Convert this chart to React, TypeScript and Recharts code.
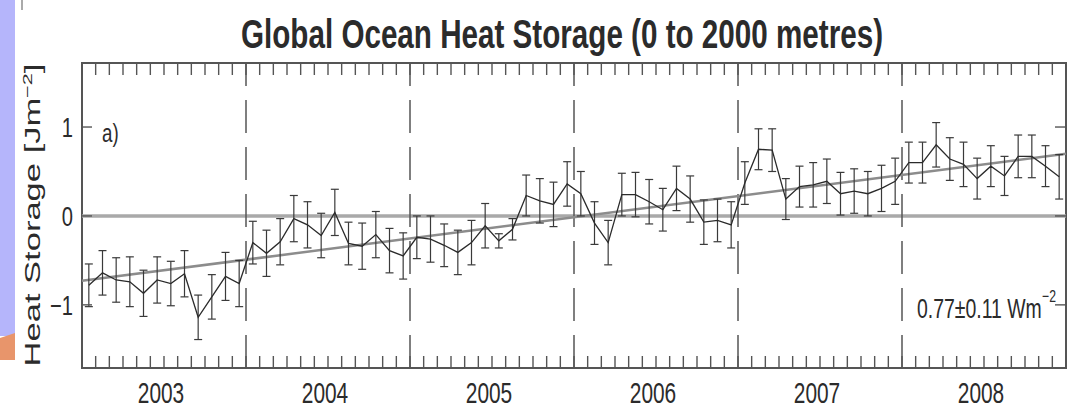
import React from 'react';
import {
  ComposedChart,
  Line,
  ErrorBar,
  XAxis,
  YAxis,
  ReferenceLine,
  ReferenceArea,
} from 'recharts';

// monthly heat storage anomalies (J m^-2 scaled), one array per year
const years = ['2003', '2004', '2005', '2006', '2007', '2008'];
const heat2003 = [-0.78, -0.64, -0.72, -0.74, -0.87, -0.72, -0.76, -0.65, -1.14, -0.91, -0.68, -0.76];
const heat2004 = [-0.3, -0.42, -0.29, -0.03, -0.1, -0.22, 0.04, -0.31, -0.34, -0.21, -0.39, -0.45];
const heat2005 = [-0.24, -0.26, -0.33, -0.41, -0.3, -0.11, -0.28, -0.15, 0.23, 0.17, 0.13, 0.36];
const heat2006 = [0.25, -0.08, -0.3, 0.24, 0.24, 0.16, 0.07, 0.31, 0.19, -0.07, -0.05, -0.1];
const heat2007 = [0.37, 0.75, 0.74, 0.19, 0.33, 0.35, 0.39, 0.25, 0.28, 0.25, 0.31, 0.39];
const heat2008 = [0.6, 0.6, 0.8, 0.64, 0.58, 0.42, 0.56, 0.45, 0.67, 0.67, 0.56, 0.44];

// one-sigma errors
const err2003 = [0.24, 0.25, 0.25, 0.28, 0.26, 0.26, 0.25, 0.26, 0.25, 0.25, 0.27, 0.26];
const err2004 = [0.24, 0.26, 0.26, 0.26, 0.26, 0.25, 0.26, 0.24, 0.26, 0.26, 0.25, 0.26];
const err2005 = [0.24, 0.26, 0.24, 0.25, 0.25, 0.25, 0.08, 0.12, 0.23, 0.25, 0.25, 0.25];
const err2006 = [0.25, 0.24, 0.25, 0.24, 0.25, 0.25, 0.24, 0.25, 0.26, 0.25, 0.24, 0.26];
const err2007 = [0.24, 0.23, 0.24, 0.23, 0.23, 0.25, 0.25, 0.24, 0.25, 0.25, 0.26, 0.26];
const err2008 = [0.23, 0.23, 0.25, 0.24, 0.25, 0.23, 0.23, 0.22, 0.24, 0.24, 0.23, 0.25];

// linear fit, month 0 .. month 72
const trendMonths = [0, 72];
const trendValues = [-0.73, 0.7];

const yTicks = [-1, 0, 1];
const yearEdges = [12, 24, 36, 48, 60];

const heatByYear = [heat2003, heat2004, heat2005, heat2006, heat2007, heat2008];
const errByYear = [err2003, err2004, err2005, err2006, err2007, err2008];

const data = heatByYear.flatMap((vals, yi) =>
  vals.map((v, mi) => ({ m: yi * 12 + mi + 0.5, heat: v, err: errByYear[yi][mi] }))
);
const monthTicks = Array.from({ length: 73 }, (_, i) => i);

const W = 1077;
const H = 409;
const LEFT = 82;
const RIGHT = 1066;
const TOP = 63;
const BOTTOM = 368;
const PLOT_W = RIGHT - LEFT;
const PLOT_H = BOTTOM - TOP;

const FONT = '"Liberation Sans", Arial, Helvetica, sans-serif';
const INK = '#2b2b2b';
const FRAME = '#555';

function MonthTick({ x, y, payload }: any) {
  const m = payload.value as number;
  const label = m % 12 === 6 ? years[(m - 6) / 12] : null;
  return (
    <g>
      <line x1={x} x2={x} y1={y} y2={y - 12} stroke={FRAME} strokeWidth={1.4} />
      <line x1={x} x2={x} y1={y - PLOT_H} y2={y - PLOT_H + 12} stroke={FRAME} strokeWidth={1.4} />
      {label && (
        <text
          transform={`translate(${x - 3},${y + 35}) scale(0.72,1)`}
          textAnchor="middle"
          fontFamily={FONT}
          fontSize={29}
          fill={INK}
        >
          {label}
        </text>
      )}
    </g>
  );
}

function HeatTick({ x, y, payload }: any) {
  const v = payload.value as number;
  return (
    <g>
      <line x1={x} x2={x + 10} y1={y} y2={y} stroke={FRAME} strokeWidth={1.4} />
      <line x1={x + PLOT_W - 11} x2={x + PLOT_W} y1={y} y2={y} stroke={FRAME} strokeWidth={1.4} />
      <text
        transform={`translate(${x - 9},${y + 10}) scale(0.72,1)`}
        textAnchor="end"
        fontFamily={FONT}
        fontSize={28}
        fill={INK}
      >
        {v < 0 ? `\u2212${-v}` : v}
      </text>
    </g>
  );
}

export default function App() {
  return (
    <div style={{ position: 'absolute', left: 0, top: 0, width: W, height: H, background: '#fff' }}>
      {/* slide strip on the left edge */}
      <div style={{ position: 'absolute', left: 0, top: 0, width: 15, height: 336, background: '#b5b5fb' }} />
      <div
        style={{
          position: 'absolute',
          left: 0,
          top: 333,
          width: 15,
          height: 27,
          background: '#e8956b',
          clipPath: 'polygon(0 5px, 100% 0, 100% 100%, 0 100%)',
        }}
      />
      <div style={{ position: 'absolute', left: 21, top: 0, width: 2, height: 10, background: '#aaa' }} />

      <ComposedChart
        width={W}
        height={H}
        data={data}
        margin={{ top: TOP, right: W - RIGHT, bottom: 0, left: 0 }}
        style={{ position: 'absolute', left: 0, top: 0 }}
      >
        <XAxis
          type="number"
          dataKey="m"
          domain={[0, 72]}
          ticks={monthTicks}
          interval={0}
          allowDataOverflow
          axisLine={false}
          tickLine={false}
          tickSize={0}
          tickMargin={0}
          height={H - BOTTOM}
          tick={<MonthTick />}
        />
        <YAxis
          type="number"
          domain={[-1.71, 1.72]}
          ticks={yTicks}
          allowDataOverflow
          axisLine={false}
          tickLine={false}
          tickSize={0}
          tickMargin={0}
          width={LEFT}
          tick={<HeatTick />}
        />
        <ReferenceLine y={0} stroke="#a9a9a9" strokeWidth={3.5} />
        {yearEdges.map((m) => (
          <ReferenceLine key={m} x={m} stroke={FRAME} strokeWidth={1.5} strokeDasharray="33 14" />
        ))}
        <ReferenceLine
          segment={[
            { x: trendMonths[0], y: trendValues[0] },
            { x: trendMonths[1], y: trendValues[1] },
          ]}
          stroke="#8c8c8c"
          strokeWidth={2.5}
        />
        <ReferenceArea x1={0} x2={72} y1={-1.71} y2={1.72} fill="none" stroke={FRAME} strokeWidth={2} />
        <Line
          type="linear"
          dataKey="heat"
          stroke={INK}
          strokeWidth={1.3}
          dot={false}
          isAnimationActive={false}
        >
          <ErrorBar dataKey="err" direction="y" width={4} stroke="#3a3a3a" strokeWidth={1.2} isAnimationActive={false} />
        </Line>
      </ComposedChart>

      <svg
        width={W}
        height={H}
        style={{ position: 'absolute', left: 0, top: 0, pointerEvents: 'none' }}
        fontFamily={FONT}
        fill={INK}
      >
        <text x={562} y={48} textAnchor="middle" fontSize={40} fontWeight={700} textLength={642} lengthAdjust="spacingAndGlyphs">
          Global Ocean Heat Storage (0 to 2000 metres)
        </text>
        <g transform="translate(40,215) rotate(-90) scale(1.08,0.68)">
          <text x={0} y={0} textAnchor="middle" fontSize={32}>
            Heat Storage [Jm
            <tspan fontSize={20} dy={-12}>{'\u2212'}2</tspan>
            <tspan dy={12}>]</tspan>
          </text>
        </g>
        <text transform="translate(102,142) scale(0.72,1)" fontSize={26}>
          a)
        </text>
        <text transform="translate(917,318) scale(0.72,1)" fontSize={27}>
          0.77±0.11 Wm
        </text>
        <text transform="translate(1042,302) scale(0.72,1)" fontSize={17}>
          {'\u2212'}2
        </text>
      </svg>
    </div>
  );
}
